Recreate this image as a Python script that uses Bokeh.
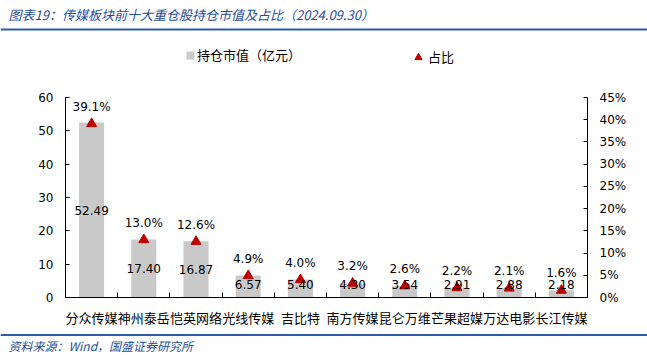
import numpy as np
from bokeh.plotting import figure
from bokeh.layouts import column
from bokeh.models import (ColumnDataSource, Range1d, LinearAxis, FixedTicker,
                          Label, Legend, LegendItem, Span)
from bokeh.core.properties import value
from bokeh.embed import file_html
from bokeh.resources import INLINE

categories = ["分众传媒", "神州泰岳", "恺英网络", "光线传媒", "吉比特",
              "南方传媒", "昆仑万维", "芒果超媒", "万达电影", "长江传媒"]
market_value = [52.49, 17.40, 16.87, 6.57, 5.40, 4.30, 3.54, 2.91, 2.88, 2.18]
share_pct = [39.1, 13.0, 12.6, 4.9, 4.0, 3.2, 2.6, 2.2, 2.1, 1.6]
left_ticks = [0, 10, 20, 30, 40, 50, 60]
right_ticks = [0, 5, 10, 15, 20, 25, 30, 35, 40, 45]

title_text = "图表19：传媒板块前十大重仓股持仓市值及占比（2024.09.30）"
source_text = "资料来源：Wind，国盛证券研究所"
legend_bar = "持仓市值（亿元）"
legend_pct = "占比"

n = len(categories)
xs = np.arange(n) + 0.5
mv = np.array(market_value)
src = ColumnDataSource(dict(
    x=xs, mv=mv, pct=share_pct,
    mv_lab=[f"{v:.2f}" for v in market_value],
    mv_y=np.maximum(mv / 2, 3.9),
    pct_lab=[f"{v:.1f}%" for v in share_pct],
))

NUM_FONT = "DejaVu Sans"
CJK_FONT = "Noto Sans CJK SC"
BLUE = "#1F4E9B"
RULE = "#2E5CA8"
BAR = "#C9C9C9"
TRI = "#C00000"
W = 647


def strip(height):
    f = figure(width=W, height=height, output_backend="svg", toolbar_location=None,
               x_range=Range1d(0, W), y_range=Range1d(0, height),
               x_axis_location=None, y_axis_location=None, min_border=0,
               frame_align=False)
    f.outline_line_color = None
    f.xgrid.visible = False
    f.ygrid.visible = False
    f.background_fill_color = "white"
    f.border_fill_color = "white"
    return f


# header: title, rule and legend
head = strip(67)
head.add_layout(Label(x=8, y=53, text=title_text, text_baseline="middle",
                      text_font=CJK_FONT, text_font_size="13px",
                      text_font_style="italic", text_color=BLUE))
head.add_layout(Span(location=38, dimension="width", line_color=RULE, line_width=2))
# legend-only renderers (one row each, placed outside the visible range)
proxy = ColumnDataSource(dict(x=[-1000.0], y=[0.0]))
lg_bar = head.vbar(x="x", top="y", width=1, source=proxy, fill_color=BAR,
                   line_color=None)
lg_tri = head.scatter(x="x", y="y", marker="triangle", source=proxy,
                      fill_color=TRI, line_color=TRI)
common = dict(orientation="horizontal", label_height=14, padding=0, margin=0,
              border_line_color=None, background_fill_alpha=0,
              label_text_font=CJK_FONT, label_text_font_size="13px",
              label_text_color="#000000", label_text_baseline="middle")
head.add_layout(Legend(items=[LegendItem(label=legend_bar, renderers=[lg_bar])],
                       location=(185, 3), glyph_width=10, glyph_height=10,
                       label_standoff=2, **common))
head.add_layout(Legend(items=[LegendItem(label=legend_pct, renderers=[lg_tri])],
                       location=(409, 1), glyph_width=18, glyph_height=18,
                       label_standoff=1, **common))

# footer: rule and source
foot = strip(22)
foot.add_layout(Span(location=20.5, dimension="width", line_color=RULE, line_width=2))
foot.add_layout(Label(x=8, y=10, text=source_text, text_baseline="middle",
                      text_font=CJK_FONT, text_font_size="12px",
                      text_font_style="italic", text_color=BLUE))

# main chart
p = figure(width=W, height=266, output_backend="svg", toolbar_location=None,
           x_range=Range1d(0, n), y_range=Range1d(0, 60),
           min_border_left=65, min_border_right=60, min_border_top=30,
           min_border_bottom=36, frame_align=False)
p.outline_line_color = None
p.xgrid.visible = False
p.ygrid.visible = False
p.background_fill_color = "white"
p.border_fill_color = "white"
p.extra_y_ranges = {"pct": Range1d(0, 45)}

p.vbar(x="x", top="mv", width=0.48, source=src, fill_color=BAR, line_color=None)
p.scatter(x="x", y="pct", y_range_name="pct", marker="triangle", size=10,
          fill_color=TRI, line_color=TRI, source=src)

p.text(x="x", y="mv_y", text="mv_lab", source=src, text_align="center",
       text_baseline="middle", text_font=value(NUM_FONT), text_font_size="12px",
       text_color="#000000")
p.text(x="x", y="pct", y_range_name="pct", text="pct_lab", source=src,
       y_offset=-17, text_align="center", text_baseline="middle",
       text_font=value(NUM_FONT), text_font_size="12px", text_color="#000000")

# x axis
xa = p.xaxis[0]
xa.ticker = FixedTicker(ticks=list(xs), minor_ticks=list(range(n + 1)))
xa.major_label_overrides = {float(x): c for x, c in zip(xs, categories)}
xa.major_tick_in = 0
xa.major_tick_out = 0
xa.minor_tick_in = 5
xa.minor_tick_out = 0
xa.axis_line_color = "black"
xa.major_label_standoff = 10
xa.major_label_text_font = CJK_FONT
xa.major_label_text_font_size = "13px"
xa.major_label_text_color = "#000000"

# left axis
ya = p.yaxis[0]
ya.ticker = FixedTicker(ticks=left_ticks)
ya.major_tick_in = 4
ya.major_tick_out = 0
ya.minor_tick_line_color = None
ya.major_label_standoff = 12
ya.major_label_text_font = NUM_FONT
ya.major_label_text_font_size = "12px"
ya.major_label_text_color = "#000000"

# right axis
ra = LinearAxis(y_range_name="pct", ticker=FixedTicker(ticks=right_ticks))
ra.major_label_overrides = {t: f"{t}%" for t in right_ticks}
ra.major_tick_in = 4
ra.major_tick_out = 0
ra.minor_tick_line_color = None
ra.major_label_standoff = 12
ra.major_label_text_font = NUM_FONT
ra.major_label_text_font_size = "12px"
ra.major_label_text_color = "#000000"
p.add_layout(ra, "right")

layout = column(head, p, foot, spacing=0)
open("out.html", "w").write(file_html(layout, INLINE))
